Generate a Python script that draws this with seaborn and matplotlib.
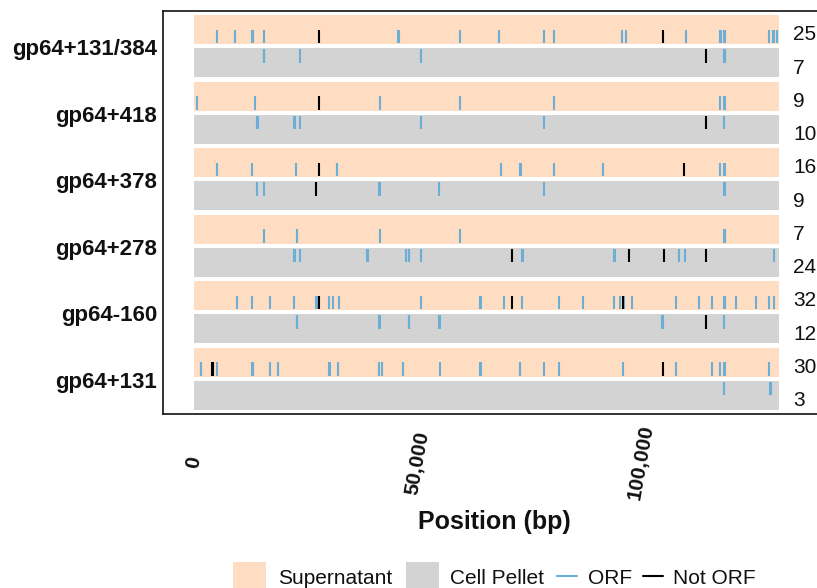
import matplotlib
matplotlib.use("Agg")
import matplotlib.pyplot as plt
from matplotlib.patches import Rectangle
from matplotlib.lines import Line2D
import pandas as pd
import seaborn as sns

# ---------------------------------------------------------------- data
GENOME_LENGTH = 130900

groups = ["gp64+131/384", "gp64+418", "gp64+378", "gp64+278", "gp64-160", "gp64+131"]
fractions = ["Supernatant", "Cell Pellet"]
categories = ["ORF", "Not ORF"]

x_ticks = [0, 50000, 100000]
x_tick_labels = ["0", "50,000", "100,000"]

# insertion sites (bp) for each library / fraction, split by ORF status
gp64_131_384_sup_orf = [5100, 9200, 13000, 13100, 15600, 45700, 45800, 59600, 68200,
                        78200, 80500, 80600, 95700, 96600, 110100, 117700, 117800,
                        118600, 118700, 128600, 129600, 129700, 130500]
gp64_131_384_sup_not = [28000, 104900]
gp64_131_384_cell_orf = [15600, 15700, 23800, 50700, 118600, 118700]
gp64_131_384_cell_not = [114500]

gp64_418_sup_orf = [600, 13700, 41500, 59600, 80500, 117700, 118600, 118700]
gp64_418_sup_not = [28000]
gp64_418_cell_orf = [14200, 14300, 22400, 22500, 23800, 50700, 50800, 78200, 118600]
gp64_418_cell_not = [114500]

gp64_378_sup_orf = [5100, 5200, 13000, 22800, 31900, 32000, 68700, 72900, 73200,
                    80500, 91400, 117700, 118600, 118700]
gp64_378_sup_not = [28000, 109600]
gp64_378_cell_orf = [14200, 15600, 41300, 41500, 54900, 78300, 118600, 118700]
gp64_378_cell_not = [27300]

gp64_278_sup_orf = [15600, 23000, 23100, 41500, 59600, 118600, 118700]
gp64_278_sup_not = []
gp64_278_cell_orf = [22400, 22500, 23700, 23800, 38800, 38900, 47400, 47500, 48000,
                     48100, 50700, 50800, 73400, 73500, 94000, 94100, 108500, 108600,
                     109800, 129700]
gp64_278_cell_not = [71100, 97200, 105200, 114500]

gp64_160_sup_orf = [9700, 13000, 17000, 22300, 27400, 27500, 30300, 31000, 32400,
                    50700, 64000, 64100, 69400, 73400, 81600, 87000, 94000, 95300,
                    96100, 98000, 107800, 113000, 115900, 118600, 118700, 121200,
                    125800, 128600, 129700]
gp64_160_sup_not = [28000, 71100, 96000]
gp64_160_cell_orf = [23000, 23100, 41300, 41500, 48100, 48200, 54900, 55000,
                     104800, 104900, 118600]
gp64_160_cell_not = [114500]

gp64_131_sup_orf = [1500, 1600, 5100, 13000, 13100, 17000, 18900, 30300, 30400,
                    32200, 41300, 42000, 46700, 55100, 64000, 64300, 72900, 73000,
                    78200, 81600, 95900, 107800, 115900, 117700, 118600, 118700,
                    128600]
gp64_131_sup_not = [4100, 4200, 105000]
gp64_131_cell_orf = [118600, 128900, 129000]
gp64_131_cell_not = []

site_table = [
    (gp64_131_384_sup_orf, gp64_131_384_sup_not), (gp64_131_384_cell_orf, gp64_131_384_cell_not),
    (gp64_418_sup_orf, gp64_418_sup_not), (gp64_418_cell_orf, gp64_418_cell_not),
    (gp64_378_sup_orf, gp64_378_sup_not), (gp64_378_cell_orf, gp64_378_cell_not),
    (gp64_278_sup_orf, gp64_278_sup_not), (gp64_278_cell_orf, gp64_278_cell_not),
    (gp64_160_sup_orf, gp64_160_sup_not), (gp64_160_cell_orf, gp64_160_cell_not),
    (gp64_131_sup_orf, gp64_131_sup_not), (gp64_131_cell_orf, gp64_131_cell_not),
]

# ---------------------------------------------------------------- style
band_colors = {"Supernatant": "#FEDDC3", "Cell Pellet": "#D3D3D3"}
mark_colors = {"ORF": "#6BAED6", "Not ORF": "#000000"}
text_color = "#111111"

sns.set_theme(style="white")
plt.rcParams["font.family"] = ["Liberation Sans", "DejaVu Sans"]

W, H = 817, 588
fig = plt.figure(figsize=(W / 100, H / 100), dpi=100)
ax = fig.add_axes([163 / W, 1 - 414 / H, (820 - 163) / W, (414 - 11) / H])

# tidy table of sites; rows run top to bottom
records = []
for row, (orf_sites, not_sites) in enumerate(site_table):
    offset = 0.21 if row % 2 == 0 else -0.21
    for cat, sites in zip(categories, (orf_sites, not_sites)):
        for pos in sites:
            records.append({"position": pos, "y": row + offset, "category": cat, "row": row})
sites_df = pd.DataFrame(records)
sites_df["order"] = sites_df["category"].map({"ORF": 0, "Not ORF": 1})
sites_df = sites_df.sort_values("order", kind="stable")

# fraction bands
for row in range(len(site_table)):
    frac = fractions[row % 2]
    ax.barh(row, GENOME_LENGTH, left=0, height=0.87, color=band_colors[frac],
            linewidth=0, zorder=1)

sns.scatterplot(data=sites_df, x="position", y="y", hue="category",
                hue_order=categories, palette=mark_colors, marker="|", s=94,
                linewidth=1.5, legend=False, ax=ax, zorder=3)

# number of sites per band
for row, (orf_sites, not_sites) in enumerate(site_table):
    ax.text(134000, row + 0.16, str(len(orf_sites) + len(not_sites)),
            ha="left", va="center", fontsize=15, color=text_color, zorder=4)

ax.set_xlim(-6935, 140036)
ax.set_ylim(11.557, -0.556)

ax.set_yticks([2 * g + 0.53 for g in range(len(groups))])
ax.set_yticklabels(groups, fontsize=16, fontweight="bold", color=text_color)
ax.tick_params(axis="y", length=0, pad=4.3)

ax.set_xticks(x_ticks)
ax.set_xticklabels(x_tick_labels, fontsize=15, fontweight="bold", rotation=80,
                   ha="center", va="center", color=text_color)
ax.tick_params(axis="x", length=0, pad=35)

ax.set_xlabel("Position (bp)", fontsize=18, fontweight="bold", va="center",
              color=text_color)
ax.xaxis.set_label_coords((494 - 163) / 657, (414 - 522) / 403)
ax.set_ylabel("")

for sp in ax.spines.values():
    sp.set_visible(True)
    sp.set_color("#111111")
    sp.set_linewidth(1.2)

# legend along the bottom edge
def fx(px):
    return px / W

def fy(py):
    return 1 - py / H

for x0, frac in ((233, "Supernatant"), (406, "Cell Pellet")):
    fig.add_artist(Rectangle((fx(x0), fy(595)), 33 / W, 33 / H,
                             transform=fig.transFigure, color=band_colors[frac], lw=0))
for x0, cat in ((557, "ORF"), (643, "Not ORF")):
    fig.add_artist(Line2D([fx(x0), fx(x0 + 20)], [fy(576), fy(576)],
                          transform=fig.transFigure, color=mark_colors[cat], lw=1.5))
for x0, label in ((278, "Supernatant"), (450, "Cell Pellet"), (588, "ORF"), (673, "Not ORF")):
    fig.text(fx(x0), fy(584.5), label, fontsize=15, ha="left", va="baseline",
             color=text_color)

fig.savefig("out.png", dpi=100)
